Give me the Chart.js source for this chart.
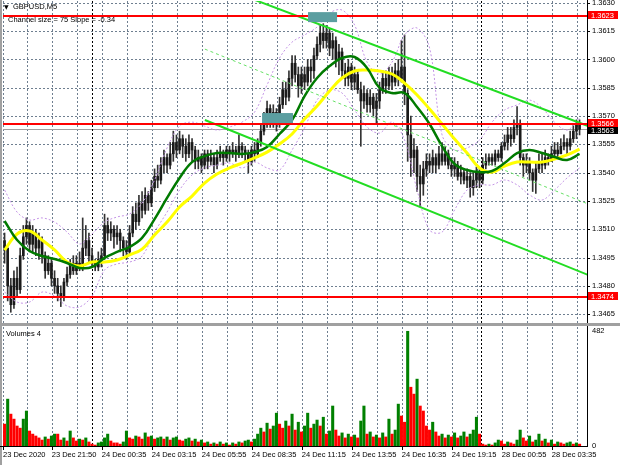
<!DOCTYPE html>
<html>
<head>
<meta charset="utf-8">
<script src="https://cdn.jsdelivr.net/npm/chart.js@4.4.1/dist/chart.umd.min.js"></script>
<style>
  html, body { margin: 0; padding: 0; background: #fff; }
  #wrap { position: relative; width: 620px; height: 465px; overflow: hidden; }
  canvas { position: absolute; left: 0; }
  #main { top: 0; }
  #vol { top: 326px; }
</style>
</head>
<body>
<div id="wrap">
  <canvas id="main" width="620" height="326"></canvas>
  <canvas id="vol" width="620" height="139"></canvas>
</div>
<script>
// ── Data (prices in pips above 1.3400, one bar per 10 min) ──────────────────
const basePrice = 1.34;
const opens = [
  104,100,80,70,84,78,96,106,112,102, 108,100,104,96,88,92,84,80,76,74,
  82,86,92,88,92,90,100,104,96,92, 90,94,96,112,108,110,106,108,104,100,
  98,108,118,114,124,120,128,124,132,138, 136,144,148,144,150,156,152,158,154,150,
  156,152,146,148,144,150,146,148,144,148, 150,148,152,150,152,150,154,152,150,146,
  152,150,156,162,166,174,168,172,166,176, 184,180,190,198,192,186,192,188,196,194,
  202,208,214,210,214,206,210,200,204,194, 190,196,188,192,184,178,182,176,180,174,
  178,184,190,186,192,188,194,190,196,182, 160,148,152,138,134,142,146,144,148,144,
  150,146,150,144,142,144,138,140,136,138, 132,136,140,136,144,146,148,146,150,148,
  154,156,160,158,164,166,148,144,146,140, 136,142,146,144,148,146,150,152,150,154,
  156,154,158,162,166
];
const highs = [
  108,100,84,88,90,100,112,116,114,112, 110,108,106,98,96,94,88,84,80,84,
  90,94,96,96,98,116,112,108,100,94, 98,100,118,116,114,112,112,110,106,104,
  112,122,124,128,130,132,130,136,142,144, 148,152,150,156,162,160,162,160,158,160,
  158,154,152,150,152,152,152,150,152,154, 152,154,154,156,154,160,156,154,152,154,
  156,158,166,172,178,176,176,174,180,188, 188,194,202,202,196,196,196,200,200,206,
  212,218,219,218,216,214,212,208,206,198, 200,198,196,194,188,186,184,184,182,182,
  188,194,194,196,196,198,200,210,213,184, 170,158,154,144,146,150,150,152,150,154,
  156,154,152,148,148,146,144,142,142,140, 140,143,142,148,150,150,150,152,152,156,
  160,164,164,168,175,168,150,150,148,142, 146,150,150,152,150,154,156,156,158,160,
  158,162,166,168,168
];
const lows = [
  92,72,66,68,74,76,94,102,98,98, 96,94,92,84,86,80,76,72,69,72,
  80,84,86,86,88,88,96,92,90,88, 88,90,94,104,104,100,102,98,96,94,
  96,106,110,112,116,118,120,122,130,132, 134,140,140,142,146,148,150,148,146,148,
  146,142,142,140,142,142,144,140,142,146, 144,146,146,148,146,148,148,146,140,144,
  146,148,154,160,164,164,164,162,164,174, 176,178,186,188,180,182,184,186,188,190,
  200,204,206,206,202,200,196,192,190,186, 186,184,184,182,154,174,172,172,170,166,
  174,182,182,184,184,186,186,188,176,146, 138,140,130,122,128,138,140,140,140,142,
  144,144,142,138,138,136,134,134,132,127, 128,132,132,134,142,144,144,144,146,146,
  152,152,154,156,160,144,138,140,136,130, 129,140,140,142,144,146,148,148,150,152,
  150,152,156,158,160
];
const closes = [
  100,80,70,84,78,96,106,112,102,108, 100,104,96,88,92,84,80,76,74,82,
  86,92,88,92,90,100,104,96,92,90, 94,96,112,108,110,106,108,104,100,98,
  108,118,114,124,120,128,124,132,138,136, 144,148,144,150,156,152,158,154,150,156,
  152,146,148,144,150,146,148,144,148,150, 148,152,150,152,150,154,152,150,146,152,
  150,156,162,166,174,168,172,166,176,184, 180,190,198,192,186,192,188,196,194,202,
  208,214,210,214,206,210,200,204,194,190, 196,188,192,184,178,182,176,180,174,178,
  184,190,186,192,188,194,190,196,182,160, 148,152,138,134,142,146,144,148,144,150,
  146,150,144,142,144,138,140,136,138,132, 136,140,136,144,146,148,146,150,148,154,
  156,160,158,164,166,148,144,146,140,136, 142,146,144,148,146,150,152,150,154,156,
  154,158,162,166,163
];
const volumes = [
  92,197,134,113,84,75,113,147,63,50, 42,34,25,38,29,42,50,50,25,34,
  21,63,34,21,29,25,34,17,8,4, 13,17,34,50,21,13,13,8,17,63,
  34,29,42,38,29,55,38,42,29,34, 38,29,38,25,34,38,25,21,29,34,
  21,29,17,25,13,17,8,13,8,17, 8,13,4,13,8,17,13,21,25,17,
  29,50,75,59,96,71,84,138,92,75, 105,84,134,67,100,59,84,138,75,92,
  109,84,121,50,63,168,67,42,55,34, 50,38,46,34,105,168,50,59,38,46,
  34,55,38,113,50,67,176,126,100,482, 247,218,281,168,147,84,67,100,59,42,
  50,34,46,38,55,34,42,59,38,50, 67,121,50,8,4,8,4,13,25,21,
  8,17,13,8,25,67,34,21,42,17, 25,50,21,29,13,25,8,17,13,8,
  13,17,8,13,8
];

// indicator readings, one every maStep bars
const maStep = 4;
const fastMA = [
  114.4,104.3,98.5,95.8,94.2,92.1,89.5,90.0,94.8,98.0, 100.6,105.4,115.4,126.6,137.2,145.6,148.8,150.4,150.4,149.9,
  150.9,153.6,160.5,167.9,180.6,190.2,196.5,200.8,201.3,195.5, 184.9,182.2,182.2,174.8,165.8,154.1,144.6,141.4,140.3,140.9,
  145.1,150.4,152.0,150.4,148.3,146.7,149.9
];
const slowMA = [
  98.9,107.5,109.1,104.3,99.0,92.6,90.5,92.6,92.6,93.7, 96.4,99.5,107.0,113.8,121.8,127.6,134.5,139.3,142.5,145.1,
  147.8,150.9,155.2,160.5,168.4,175.3,183.3,190.2,193.9,194.4, 193.9,192.3,187.5,181.2,173.7,165.8,157.8,150.4,142.5,140.3,
  143.5,145.6,145.6,145.6,147.2,149.4,152.5
];
const bandUpper = [
  130.8,119.1,114.9,116.0,113.8,108.5,102.2,107.5,113.8,116.5, 118.1,123.9,136.1,153.1,164.7,166.8,164.7,162.6,164.2,166.8,
  172.1,186.5,200.8,209.2,213.0,217.2,224.6,226.2,218.3,198.6, 192.3,198.6,213.0,216.7,206.1,160.0,152.0,153.1,157.3,166.8,
  173.2,175.9,178.5,174.3,166.8,162.6,169.0
];
const bandLower = [
  76.7,71.4,71.4,76.7,74.6,69.3,68.8,74.6,88.4,91.6, 92.6,95.8,108.5,119.1,130.8,138.8,142.5,144.0,145.1,142.5,
  145.6,142.5,141.4,152.0,163.7,178.5,183.8,182.2,173.2,164.2, 161.0,166.8,157.3,130.8,109.6,108.5,120.2,130.8,133.5,133.5,
  136.1,133.5,128.2,125.5,130.8,137.2,142.5
];

// regression channel: [bar, pips] end points
const channelUpper = [[64.1, 241.6], [186.7, 164.7]];
const channelMid = [[64.1, 205.5], [186.7, 123.4]];
const channelLower = [[64.1, 167.9], [186.7, 85.8]];

const levels = [1.3623, 1.3566, 1.3474];
const bidPrice = 1.3563;
const priceTicks = [1.3465, 1.3480, 1.3495, 1.3510, 1.3525, 1.3540, 1.3555, 1.3570, 1.3585, 1.3600, 1.3615, 1.3630];
const volTicks = [0, 482];
const gridBars = [-0.5, 7.1, 15.1, 23.1, 31.1, 39.1, 47.1, 55.1, 63.1, 71.1, 79.1, 87.1,
  95.1, 103.1, 111.1, 119.1, 127.1, 135.1, 143.1, 151.1, 159.1, 167.1, 175.1, 183.1];
const timeLabels = ['23 Dec 2020', '23 Dec 21:50', '24 Dec 00:35', '24 Dec 03:15', '24 Dec 05:55', '24 Dec 08:35',
  '24 Dec 11:15', '24 Dec 13:55', '24 Dec 16:35', '24 Dec 19:15', '28 Dec 00:55', '28 Dec 03:35'];
const dayBreaks = [28.1, 152.6];
const labelBoxes = [
  { from: 97.1, to: 106.4, lo: 219.8, hi: 225.1 },
  { from: 82.4, to: 92.3, lo: 166.3, hi: 171.6 }
];

const xMin = -0.5, xMax = 186.38;
const yMin = 1.34603, yMax = 1.36310;
const FONT = '"Liberation Sans", Arial, sans-serif';
const GRID_COLOR = '#6F7F90';

const px = v => basePrice + v / 10000;
const barIdx = closes.map((_, i) => i);
const sampled = arr => arr.map((v, k) => ({ x: k * maStep, y: px(v) }));
const segment = pts => pts.map(p => ({ x: p[0], y: px(p[1]) }));

function hline(ctx, x1, x2, y) { ctx.beginPath(); ctx.moveTo(x1, y); ctx.lineTo(x2, y); ctx.stroke(); }
function vline(ctx, x, y1, y2) { ctx.beginPath(); ctx.moveTo(x, y1); ctx.lineTo(x, y2); ctx.stroke(); }
const snap = v => Math.round(v) + 0.5;
const noPad = s => { s.paddingTop = 0; s.paddingBottom = 0; s.paddingLeft = 0; s.paddingRight = 0; };

// dotted grid, drawn first so price marks sit over it
function drawGrid(chart, horizontal) {
  const { ctx, chartArea: a, scales } = chart;
  ctx.save();
  ctx.lineWidth = 1;
  ctx.strokeStyle = GRID_COLOR;
  ctx.setLineDash([2, 2]);
  if (horizontal) {
    priceTicks.forEach(v => hline(ctx, a.left, a.right, snap(scales.y.getPixelForValue(v))));
  }
  gridBars.forEach(b => vline(ctx, snap(scales.x.getPixelForValue(b)), a.top, a.bottom));
  ctx.restore();
}

function xScale(showLabels) {
  return {
    type: 'linear', min: xMin, max: xMax, offset: false,
    afterBuildTicks: s => { s.ticks = gridBars.map(v => ({ value: v })); },
    afterFit: s => { s.height = showLabels ? 19 : 0; noPad(s); },
    grid: { display: false, drawTicks: false, offset: false },
    border: { display: false },
    ticks: {
      display: showLabels, autoSkip: false, maxRotation: 0, align: 'start', padding: 4,
      color: '#000', font: { family: FONT, size: 7.5 },
      callback: (v, i) => (i % 2 ? '' : timeLabels[i / 2])
    }
  };
}

// ── Main price panel ───────────────────────────────────────────────────────
const mainDecor = {
  id: 'mainDecor',
  beforeDatasetsDraw(chart) {
    drawGrid(chart, true);
    const { ctx, chartArea: a, scales: { x, y } } = chart;
    ctx.save();
    ctx.lineWidth = 1;
    ctx.strokeStyle = '#A0A0A0';
    hline(ctx, a.left, a.right, snap(y.getPixelForValue(bidPrice)));
    ctx.strokeStyle = '#000'; ctx.setLineDash([2, 2]);
    dayBreaks.forEach(b => vline(ctx, snap(x.getPixelForValue(b)), a.top, a.bottom));
    ctx.restore();
  },
  afterDatasetsDraw(chart) {
    const { ctx, chartArea: a, scales: { x, y } } = chart;
    ctx.save();
    ctx.strokeStyle = '#FF0000'; ctx.lineWidth = 2;
    levels.forEach(v => hline(ctx, a.left, a.right, Math.round(y.getPixelForValue(v))));
    ctx.fillStyle = '#5B9EA0';
    labelBoxes.forEach(b => {
      const x1 = x.getPixelForValue(b.from), x2 = x.getPixelForValue(b.to);
      const y1 = y.getPixelForValue(px(b.hi)), y2 = y.getPixelForValue(px(b.lo));
      ctx.fillRect(x1, y1, x2 - x1, y2 - y1);
    });
    ctx.restore();
  },
  afterDraw(chart) {
    const { ctx, chartArea: a, scales: { y }, width, height } = chart;
    ctx.save();
    // frame
    ctx.fillStyle = '#A0A0A0';
    ctx.fillRect(0, 0, 2, height);
    ctx.fillRect(0, a.bottom, width, height - a.bottom);
    ctx.strokeStyle = '#000'; ctx.lineWidth = 1;
    vline(ctx, a.right + 0.5, 0, a.bottom);
    priceTicks.forEach(v => hline(ctx, a.right, a.right + 3, snap(y.getPixelForValue(v))));
    // price tags on the axis: bid tag sits just under the level tags
    ctx.font = '7.5px ' + FONT; ctx.textBaseline = 'middle'; ctx.textAlign = 'left';
    const tag = (v, bg, shift) => {
      const py = Math.round(y.getPixelForValue(v)) + shift;
      ctx.fillStyle = bg; ctx.fillRect(a.right + 1, py - 4, 30, 8);
      ctx.fillStyle = '#fff'; ctx.fillText(v.toFixed(4), a.right + 4, py + 0.5);
    };
    tag(bidPrice, '#000', 1);
    levels.forEach(v => tag(v, '#FF0000', -1));
    // header
    ctx.fillStyle = '#000';
    ctx.font = '6px "DejaVu Sans"';
    ctx.fillText('▼', 4, 7);
    ctx.font = '7.5px ' + FONT;
    ctx.fillText('GBPUSD,M5', 13, 7);
    ctx.fillText('Channel size = 75 Slope = -0.34', 8, 19.5);
    ctx.restore();
  }
};

new Chart(document.getElementById('main'), {
  type: 'bar',
  data: {
    datasets: [
      { type: 'line', data: segment(channelUpper), borderColor: '#22DD22', borderWidth: 2, pointRadius: 0, order: 1 },
      { type: 'line', data: segment(channelLower), borderColor: '#22DD22', borderWidth: 2, pointRadius: 0, order: 1 },
      { type: 'line', data: segment(channelMid), borderColor: '#66E066', borderWidth: 1, borderDash: [3, 3], pointRadius: 0, order: 1 },
      { type: 'line', data: sampled(fastMA), borderColor: '#007A00', borderWidth: 2.5, pointRadius: 0, tension: 0.4, order: 2 },
      { type: 'line', data: sampled(slowMA), borderColor: '#FFFF00', borderWidth: 3, pointRadius: 0, tension: 0.4, order: 3 },
      { type: 'line', data: sampled(bandUpper), borderColor: '#C495E6', borderWidth: 1, borderDash: [2, 2], pointRadius: 0, tension: 0.35, order: 4 },
      { type: 'line', data: sampled(bandLower), borderColor: '#C495E6', borderWidth: 1, borderDash: [2, 2], pointRadius: 0, tension: 0.35, order: 4 },
      {
        data: barIdx.map(i => ({ x: i, y: [px(opens[i]), px(closes[i])] })),
        backgroundColor: '#1A1A1A', barThickness: 2, minBarLength: 1, grouped: false, order: 5
      },
      {
        data: barIdx.map(i => ({ x: i, y: [px(lows[i]), px(highs[i])] })),
        backgroundColor: '#333', barThickness: 1, grouped: false, order: 6
      }
    ]
  },
  options: {
    responsive: false, animation: false, devicePixelRatio: 1,
    layout: { padding: { left: 3, top: 1, right: 0, bottom: 3 } },
    plugins: { legend: { display: false }, tooltip: { enabled: false } },
    scales: {
      x: xScale(false),
      y: {
        position: 'right', min: yMin, max: yMax,
        afterBuildTicks: s => { s.ticks = priceTicks.map(v => ({ value: v })); },
        afterFit: s => { s.width = 33; noPad(s); },
        grid: { display: false, drawTicks: false },
        border: { display: false },
        ticks: { color: '#000', padding: 5, font: { family: FONT, size: 7.5 }, callback: v => v.toFixed(4) }
      }
    }
  },
  plugins: [mainDecor]
});

// ── Volume panel ───────────────────────────────────────────────────────────
const volDecor = {
  id: 'volDecor',
  beforeDatasetsDraw(chart) {
    drawGrid(chart, false);
    const { ctx, chartArea: a, scales: { x } } = chart;
    ctx.save();
    ctx.lineWidth = 1;
    ctx.strokeStyle = '#000'; ctx.setLineDash([2, 2]);
    dayBreaks.forEach(b => vline(ctx, snap(x.getPixelForValue(b)), a.top, a.bottom));
    ctx.restore();
  },
  afterDraw(chart) {
    const { ctx, chartArea: a, scales: { x }, height } = chart;
    ctx.save();
    ctx.fillStyle = '#A0A0A0';
    ctx.fillRect(0, 0, 2, height);
    ctx.strokeStyle = '#000'; ctx.lineWidth = 1;
    vline(ctx, a.right + 0.5, 0, a.bottom + 1);
    hline(ctx, 0, a.right + 1, a.bottom + 0.5);
    gridBars.forEach((b, i) => { if (i % 2 === 0) vline(ctx, snap(x.getPixelForValue(b)), a.bottom, a.bottom + 4); });
    ctx.fillStyle = '#000';
    ctx.font = '7.5px ' + FONT; ctx.textBaseline = 'middle';
    ctx.fillText('Volumes 4', 6, 8);
    ctx.restore();
  }
};

new Chart(document.getElementById('vol'), {
  type: 'bar',
  data: {
    datasets: [{
      data: barIdx.map(i => ({ x: i, y: volumes[i] })),
      backgroundColor: barIdx.map(i => (i > 0 && volumes[i] > volumes[i - 1] ? '#008000' : '#FF0000')),
      barThickness: 2.4, grouped: false
    }]
  },
  options: {
    responsive: false, animation: false, devicePixelRatio: 1,
    layout: { padding: { left: 3, top: 1, right: 0, bottom: 0 } },
    plugins: { legend: { display: false }, tooltip: { enabled: false } },
    scales: {
      x: xScale(true),
      y: {
        position: 'right', min: 0, max: 500,
        afterBuildTicks: s => { s.ticks = volTicks.map(v => ({ value: v })); },
        afterFit: s => { s.width = 33; noPad(s); },
        grid: { display: false, drawTicks: false },
        border: { display: false },
        ticks: { color: '#000', padding: 5, font: { family: FONT, size: 7.5 } }
      }
    }
  },
  plugins: [volDecor]
});
</script>
</body>
</html>
